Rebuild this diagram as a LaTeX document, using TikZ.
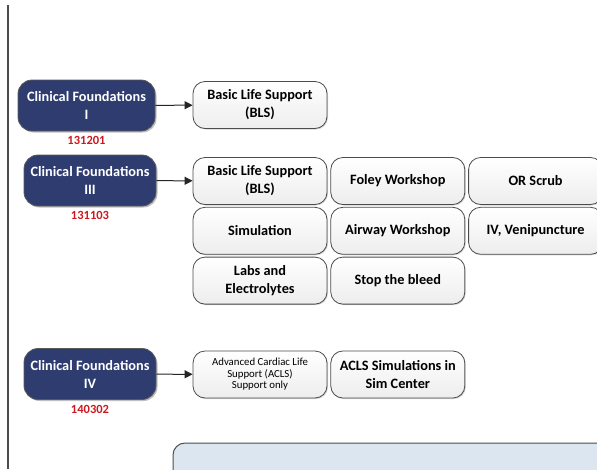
\documentclass[tikz,border=0pt]{standalone}
\usepackage{fontspec}
\setmainfont{Carlito}
\usepackage{xcolor}
\usetikzlibrary{arrows.meta, positioning, shadows}
\definecolor{cfblue}{RGB}{46,60,112}
\definecolor{codered}{RGB}{204,24,30}
\definecolor{panelblue}{RGB}{220,230,240}

\begin{document}
\begin{tikzpicture}[x=1pt,y=-1pt,font=\bfseries\fontsize{14.3}{18}\selectfont,
  course/.style={fill=cfblue, draw=gray!70!black, line width=0.8pt, rounded corners=14pt, text=white, align=center, minimum height=51pt, inner sep=1pt, drop shadow={shadow xshift=1.5pt, shadow yshift=-1.5pt, opacity=0.5}},
  topic/.style={top color=white, bottom color=gray!14, draw=gray!60!black, line width=0.8pt, rounded corners=12pt, align=center, minimum width=134pt, minimum height=47pt, inner sep=1pt, drop shadow={shadow xshift=1pt, shadow yshift=-1pt, opacity=0.35}},
  code/.style={text=codered, inner sep=1pt, font=\bfseries\fontsize{12.5}{14}\selectfont},
  link/.style={-{Triangle[length=8pt,width=8pt]}, draw=gray!30!black, line width=1pt}]
\useasboundingbox (0,0) rectangle (597,469);
% left rule
\draw[gray!60!black, line width=1.5pt] (8,5) -- (8,469);
% courses
\node[course, minimum width=137pt] (cf1) at (86.5,105.5) {Clinical Foundations\\I};
\node[code, below=4pt of cf1] (c1) {131201};
\node[course, minimum width=132pt] (cf3) at (90,180.5) {Clinical Foundations\\III};
\node[code, below=4pt of cf3] (c3) {131103};
\node[course, minimum width=132pt] (cf4) at (90,374) {Clinical Foundations\\IV};
\node[code, below=4pt of cf4] (c4) {140302};
% topics
\node[topic] (bls1) at (260,105) {Basic Life Support\\(BLS)};
\node[topic] (bls3) at (260,181) {Basic Life Support\\(BLS)};
\node[topic, right=3pt of bls3] (foley) {Foley Workshop};
\node[topic, right=3pt of foley] (orscrub) {OR Scrub};
\node[topic, below=2pt of bls3] (sim) {Simulation};
\node[topic, right=3pt of sim] (airway) {Airway Workshop};
\node[topic, right=3pt of airway] (iv) {IV, Venipuncture};
\node[topic, below=2pt of sim] (labs) {Labs and\\Electrolytes};
\node[topic, right=3pt of labs] (bleed) {Stop the bleed};
\node[topic, font=\mdseries\fontsize{10.8}{11.5}\selectfont] (acls) at (260,374.5) {Advanced Cardiac Life\\Support (ACLS)\\Support only};
\node[topic, right=3pt of acls] (aclssim) {ACLS Simulations in\\Sim Center};
% links
\draw[link] (cf1) -- (bls1);
\draw[link] (cf3) -- (bls3);
\draw[link] (cf4) -- (acls);
% lower panel
\draw[fill=panelblue, draw=gray!60!black, line width=1pt, rounded corners=12pt] (173,490) -- (173,443) -- (620,443) -- (620,490);
\end{tikzpicture}
\end{document}
